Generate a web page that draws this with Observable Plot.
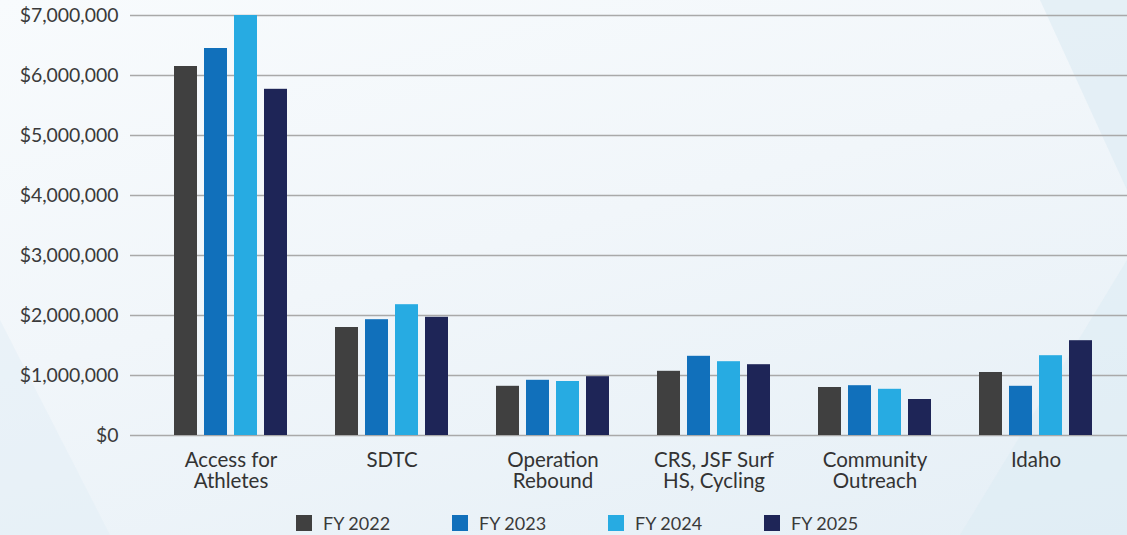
<!DOCTYPE html>
<html>
<head>
<meta charset="utf-8">
<script src="https://cdn.jsdelivr.net/npm/d3@7"></script>
<script src="https://cdn.jsdelivr.net/npm/@observablehq/plot@0.6"></script>
<style>
  html, body { margin: 0; padding: 0; }
  body {
    width: 1127px; height: 535px; overflow: hidden; position: relative;
    font-family: Lato, "Open Sans", sans-serif;
    background: linear-gradient(165deg, #f8fbfd 0%, #f1f6fa 45%, #e5eff6 100%);
  }
  .shape { position: absolute; pointer-events: none; }
  #chart { position: absolute; left: 0; top: 0; }
  #legend { position: absolute; left: 296px; top: 512px; display: flex; }
  .item { width: 156px; display: flex; align-items: center; font-size: 18px; color: #3a3a3a; }
  .sw { width: 16px; height: 16px; margin-right: 11px; }
</style>
</head>
<body>
<svg class="shape" width="1127" height="535" style="left:0;top:0">
  <polygon points="1040,0 1127,0 1127,190" fill="#dcebf3" opacity="0.6"/>
  <polygon points="1127,260 1127,535 960,535" fill="#dcebf3" opacity="0.5"/>
  <polygon points="0,320 110,535 0,535" fill="#e2edf5" opacity="0.5"/>
</svg>
<div id="chart"></div>
<div id="legend"></div>
<script>
const categories = ["Access for\nAthletes", "SDTC", "Operation\nRebound", "CRS, JSF Surf\nHS, Cycling", "Community\nOutreach", "Idaho"];
const years = ["FY 2022", "FY 2023", "FY 2024", "FY 2025"];
const fy2022 = [6150000, 1800000, 820000, 1070000, 800000, 1050000];
const fy2023 = [6450000, 1930000, 920000, 1320000, 830000, 820000];
const fy2024 = [7000000, 2180000, 900000, 1230000, 770000, 1330000];
const fy2025 = [5770000, 1970000, 980000, 1180000, 600000, 1580000];
const yTicks = [0, 1000000, 2000000, 3000000, 4000000, 5000000, 6000000, 7000000];
const colors = ["#404040", "#1170bb", "#27abe2", "#1e2557"];

const series = [fy2022, fy2023, fy2024, fy2025];
const data = [];
series.forEach((vals, i) => vals.forEach((v, j) => data.push({category: categories[j], year: years[i], value: v})));

const band = 126, barW = 24, barStep = 30;
const fmt = d => "$" + d3.format(",")(d);

const chart = Plot.plot({
  width: 1127,
  height: 500,
  marginLeft: 130,
  marginRight: 0,
  marginTop: 15,
  marginBottom: 65,
  style: {background: "transparent", fontFamily: "Lato, 'Open Sans', sans-serif", color: "#3a3a3a"},
  x: {type: "band", domain: categories, range: [130, 1136.6], padding: 0.221, label: null},
  y: {domain: [0, 7000000], label: null},
  color: {domain: years, range: colors},
  marks: [
    Plot.ruleY(yTicks, {stroke: "#a9a9a9", strokeWidth: 1.6}),
    ...years.map((yr, i) => Plot.barY(data.filter(d => d.year === yr), {
      x: "category", y: "value", fill: "year",
      insetLeft: (band - 4 * barStep) / 2 + 3 + i * barStep,
      insetRight: band - ((band - 4 * barStep) / 2 + 3 + i * barStep + barW)
    })),
    Plot.axisY({ticks: yTicks, tickFormat: fmt, tickSize: 0, tickPadding: 12, fontSize: 19.4, fill: "#3a3a3a"}),
    Plot.axisX({tickSize: 0, tickPadding: 17, fontSize: 20.5, fill: "#333", lineHeight: 1.0})
  ]
});
document.getElementById("chart").appendChild(chart);

const legend = document.getElementById("legend");
years.forEach((yr, i) => {
  const it = document.createElement("div");
  it.className = "item";
  it.innerHTML = `<span class="sw" style="background:${colors[i]}"></span><span>${yr}</span>`;
  legend.appendChild(it);
});
</script>
</body>
</html>
